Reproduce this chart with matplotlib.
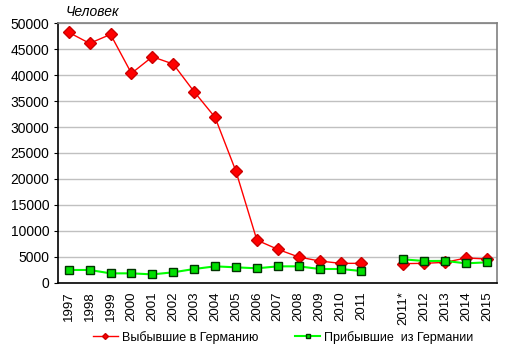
import matplotlib.pyplot as plt
import numpy as np

plt.rcParams['font.family'] = ['Liberation Sans', 'DejaVu Sans']

years = ['1997', '1998', '1999', '2000', '2001', '2002', '2003', '2004', '2005',
         '2006', '2007', '2008', '2009', '2010', '2011', '', '2011*', '2012',
         '2013', '2014', '2015']
left_to_germany = [48250, 46130, 47860, 40350, 43550, 42140, 36800, 31870, 21460,
                   8200, 6430, 4950, 4180, 3730, 3730, np.nan, 3670, 3730,
                   3920, 4760, 4570]
arrived_from_germany = [2450, 2450, 1800, 1800, 1600, 2000, 2640, 3150, 2960,
                        2770, 3150, 3150, 2640, 2640, 2250, np.nan, 4500, 4180,
                        4200, 3730, 3920]

x = np.arange(len(years))

fig = plt.figure(figsize=(5.13, 3.55), dpi=100)
ax = fig.add_axes([0.1136, 0.2037, 0.9694 - 0.1136, 0.9344 - 0.2037])

ax.plot(x, left_to_germany, color='#FF0000', lw=1, marker='D', markersize=6,
        markerfacecolor='#FF0000', markeredgecolor='#CC0000',
        label='Выбывшие в Германию')
ax.plot(x, arrived_from_germany, color='#00FF00', lw=1.5, marker='s', markersize=6,
        markerfacecolor='#00E000', markeredgecolor='#003300', markeredgewidth=1,
        label='Прибывшие  из Германии')

ax.set_xlim(-0.5, len(years) - 0.5)
ax.set_ylim(0, 50000)
ax.set_yticks(range(0, 50001, 5000))
ax.set_xticks(x)
ax.set_xticklabels(years, rotation=90, fontsize=9.5)
ax.tick_params(axis='y', labelsize=10, length=3)
ax.tick_params(axis='x', length=0, pad=6)
ax.yaxis.grid(True, color='#C0C0C0', lw=1)
ax.set_axisbelow(True)

ax.spines['left'].set_color('black')
ax.spines['bottom'].set_color('black')
ax.spines['top'].set_color('#808080')
ax.spines['right'].set_color('#808080')
for s in ax.spines.values():
    s.set_linewidth(1.2)

fig.text(0.127, 0.955, 'Человек', fontsize=10, style='italic')

fig.legend(loc='lower center', bbox_to_anchor=(0.552, 0.0), ncol=2, frameon=False,
           fontsize=9, columnspacing=3, handlelength=2.0, handletextpad=0.3,
           markerscale=0.5)

fig.savefig('out.png', dpi=100)
